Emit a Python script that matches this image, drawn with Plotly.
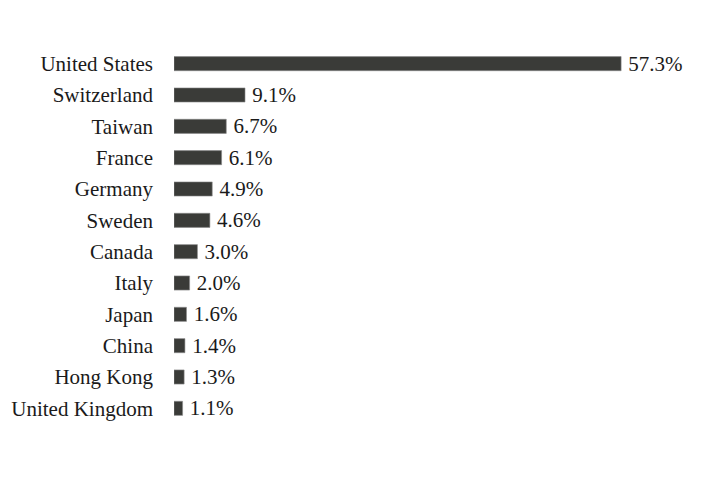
import plotly.graph_objects as go

countries = ["United States", "Switzerland", "Taiwan", "France", "Germany", "Sweden",
             "Canada", "Italy", "Japan", "China", "Hong Kong", "United Kingdom"]
values = [57.3, 9.1, 6.7, 6.1, 4.9, 4.6, 3.0, 2.0, 1.6, 1.4, 1.3, 1.1]
labels = [f"\u2009{v:.1f}%" for v in values]

FONT = "Liberation Serif, Times New Roman, serif"

fig = go.Figure(go.Bar(
    y=countries, x=values, orientation="h",
    text=labels, textposition="outside", cliponaxis=False, constraintext="none",
    textfont=dict(family=FONT, size=21, color="#1a1a1a"),
    marker=dict(color="#3a3b38", line=dict(color="#8a8a8a", width=0.6)),
    width=0.45,
))
fig.update_layout(
    width=708, height=496,
    margin=dict(l=166, r=27, t=40, b=80),
    plot_bgcolor="white", paper_bgcolor="white",
    showlegend=False,
    font=dict(family=FONT, size=21, color="#1a1a1a"),
)
fig.update_xaxes(range=[0, 66], visible=False, automargin=False)
fig.update_yaxes(autorange="reversed", showline=False, showgrid=False, ticks="",
                 ticklabelstandoff=20, tickfont=dict(size=21), automargin=False)
fig.write_html("out.html")
